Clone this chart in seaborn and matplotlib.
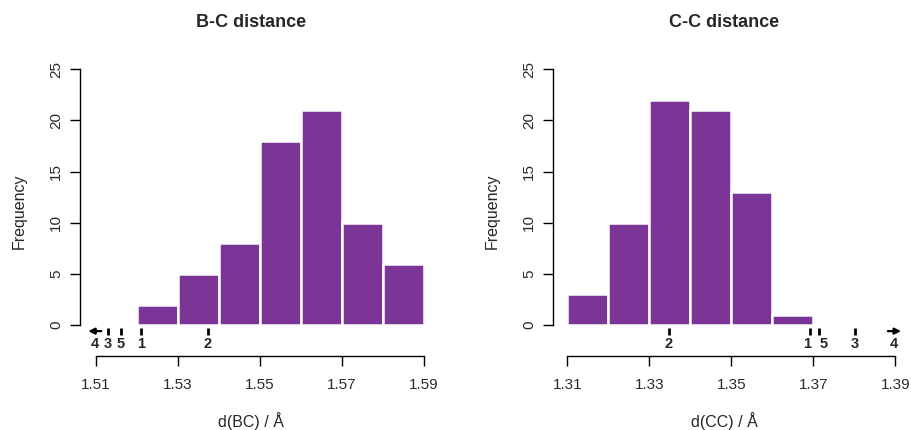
import numpy as np
import pandas as pd
import seaborn as sns
import matplotlib.pyplot as plt

# histogram bins and counts
bc_edges = [1.52, 1.53, 1.54, 1.55, 1.56, 1.57, 1.58, 1.59]
bc_counts = [2, 5, 8, 18, 21, 10, 6]
cc_edges = [1.31, 1.32, 1.33, 1.34, 1.35, 1.36, 1.37]
cc_counts = [3, 10, 22, 21, 13, 1]

# marked reference values (label, position); 4 lies outside -> arrow
bc_marks = [("3", 1.5129), ("5", 1.5161), ("1", 1.5210), ("2", 1.5372)]
bc_arrow = ("4", 1.5098, -1)
cc_marks = [("2", 1.3348), ("1", 1.3693), ("5", 1.3713), ("3", 1.3801)]
cc_arrow = ("4", 1.3897, 1)
cc_label_shift = {"1": -0.0007, "5": 0.0012}

xticks_bc = [1.51, 1.53, 1.55, 1.57, 1.59]
xticks_cc = [1.31, 1.33, 1.35, 1.37, 1.39]
yticks = [0, 5, 10, 15, 20, 25]

purple = "#7a3596"

sns.set_style("ticks")
plt.rcParams["font.family"] = ["Liberation Sans", "DejaVu Sans"]

W, H = 911, 430
fig = plt.figure(figsize=(W / 100, H / 100), dpi=100)

px_per_x = 4100.0
px_per_y = 10.23
y0_px = 325


def make_axes(box_left, box_right, x0, x0_px, yaxis_px):
    top, bottom = 60, 362
    ax = fig.add_axes([box_left / W, (H - bottom) / H,
                       (box_right - box_left) / W, (bottom - top) / H])
    ax.set_xlim(x0 + (box_left - x0_px) / px_per_x, x0 + (box_right - x0_px) / px_per_x)
    ax.set_ylim((y0_px - bottom) / px_per_y, (y0_px - top) / px_per_y)
    ax.spines["left"].set_position(("data", x0 + (yaxis_px - x0_px) / px_per_x))
    ax.spines["bottom"].set_position(("data", (y0_px - 356) / px_per_y))
    ax.spines["left"].set_bounds(0, 25)
    for s in ["top", "right"]:
        ax.spines[s].set_visible(False)
    return ax


def draw(ax, edges, counts, marks, arrow, xticks, xlabel, title, shift):
    centres = [(a + b) / 2 for a, b in zip(edges[:-1], edges[1:])]
    df = pd.DataFrame({"d": centres, "n": counts})
    sns.histplot(data=df, x="d", weights="n", bins=edges, ax=ax, color=purple,
                 alpha=1, edgecolor="white", linewidth=1.8)
    ax.spines["bottom"].set_bounds(xticks[0], xticks[-1])
    ax.set_xticks(xticks)
    ax.set_xticklabels([f"{t:.2f}" for t in xticks])
    ax.set_yticks(yticks)
    ax.set_yticklabels([str(t) for t in yticks], rotation=90, va="center")
    ax.tick_params(axis="both", labelsize=11, length=7, width=1, color="black",
                   labelcolor="#2a2a2a")
    ax.tick_params(axis="x", pad=9)
    ax.tick_params(axis="y", pad=5)
    for s in ["left", "bottom"]:
        ax.spines[s].set_color("black")
        ax.spines[s].set_linewidth(1)
    ax.set_xlabel(xlabel, fontsize=11.5, labelpad=14)
    ax.set_ylabel("Frequency", fontsize=11.5, labelpad=16)
    ax.set_title(title, fontsize=13, fontweight="bold", pad=24)

    for lab, x in marks:
        ax.plot([x, x], [-0.3, -1.0], color="black", lw=2, clip_on=False,
                solid_capstyle="butt")
        ax.text(x + shift.get(lab, 0), -1.85, lab, ha="center", va="center",
                fontsize=10.5, fontweight="bold", clip_on=False)
    lab, x, direction = arrow
    ax.annotate("", xy=(x + direction * 0.0017, -0.6), xytext=(x - direction * 0.0015, -0.6),
                arrowprops=dict(arrowstyle="-|>", color="black", lw=1.6,
                                mutation_scale=9, shrinkA=0, shrinkB=0),
                annotation_clip=False)
    ax.text(x, -1.85, lab, ha="center", va="center", fontsize=10.5,
            fontweight="bold", clip_on=False)


ax1 = make_axes(70, 432, 1.51, 96, 80)
draw(ax1, bc_edges, bc_counts, bc_marks, bc_arrow, xticks_bc,
     "d(BC) / Å", "B-C distance", {})

ax2 = make_axes(543, 905, 1.31, 567.3, 553)
draw(ax2, cc_edges, cc_counts, cc_marks, cc_arrow, xticks_cc,
     "d(CC) / Å", "C-C distance", cc_label_shift)

fig.savefig("out.png", dpi=100, facecolor="white")
